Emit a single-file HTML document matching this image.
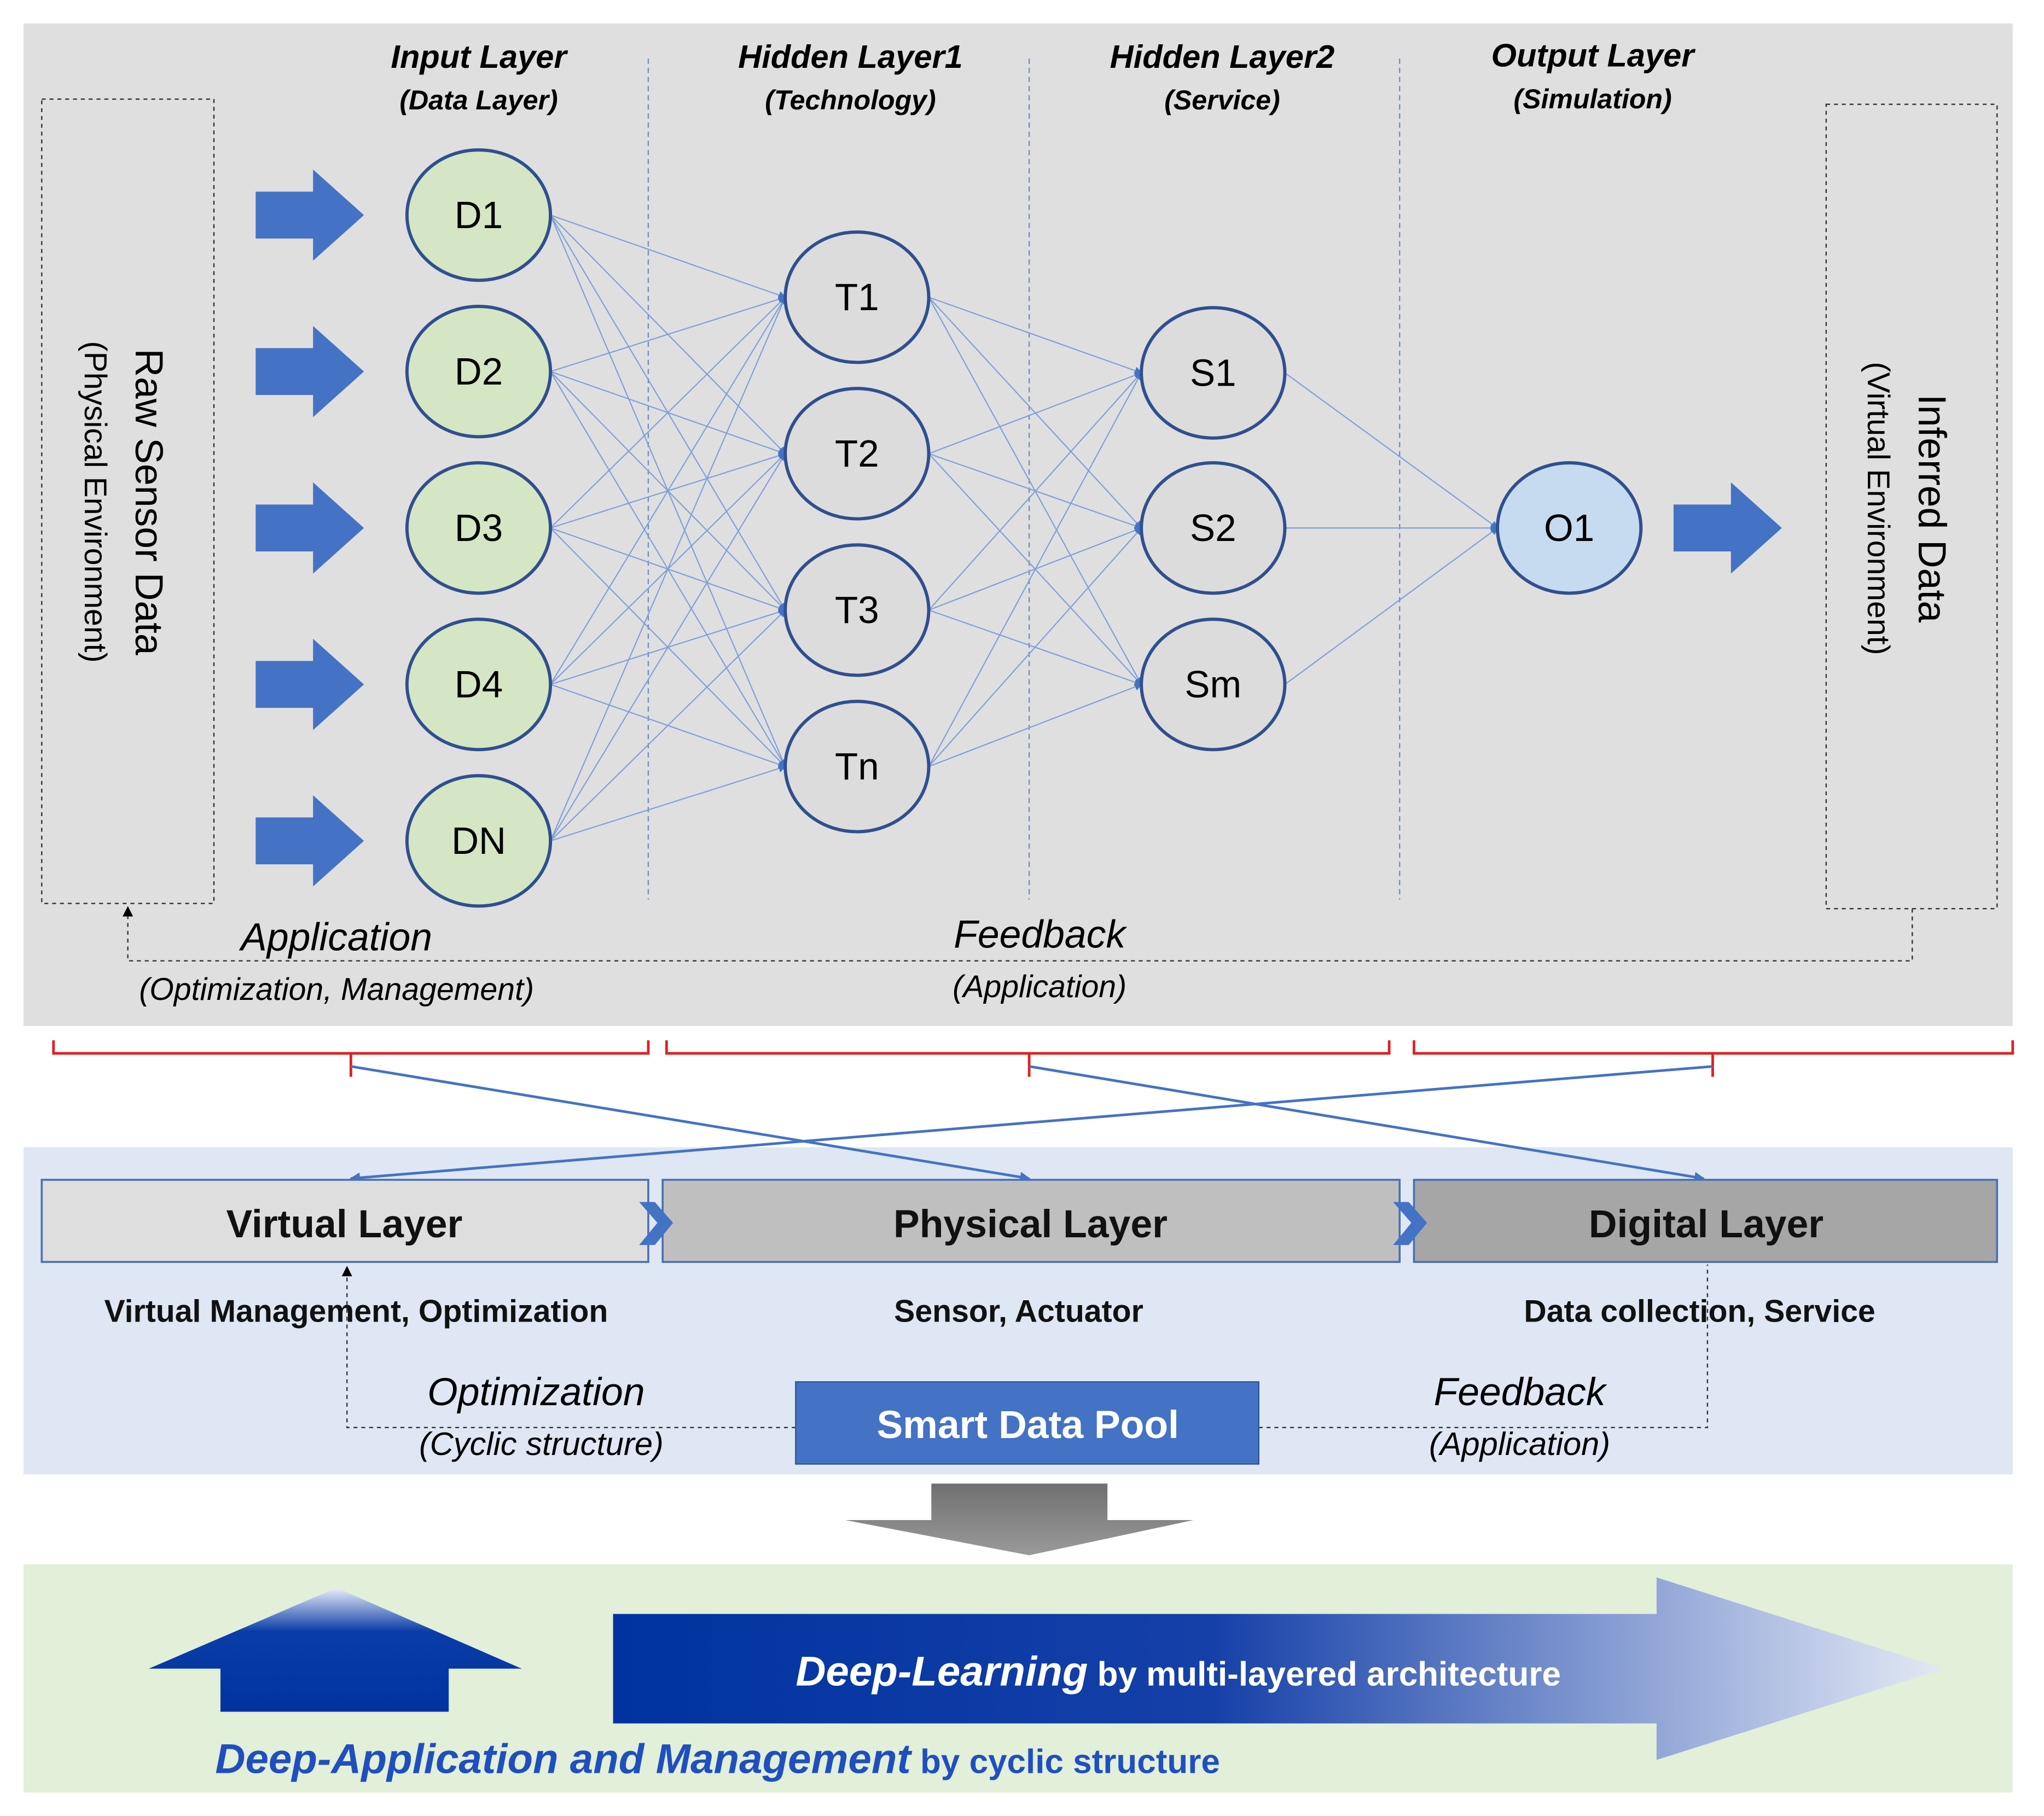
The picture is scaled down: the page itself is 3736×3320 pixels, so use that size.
<!DOCTYPE html>
<html><head><meta charset="utf-8"><style>
html,body{margin:0;padding:0;background:#fff;}
svg{display:block;width:3736px;height:3320px;}
text{font-family:"Liberation Sans",sans-serif;}
</style></head><body>
<svg viewBox="0 0 1567 1393" preserveAspectRatio="none" xmlns="http://www.w3.org/2000/svg">
<defs>
<marker id="ab" markerWidth="8" markerHeight="8" refX="7" refY="4" orient="auto" markerUnits="userSpaceOnUse"><path d="M0,0 L8,4 L0,8 z" fill="#4472c4"/></marker>
<marker id="ak" markerWidth="8" markerHeight="8" refX="7" refY="4" orient="auto" markerUnits="userSpaceOnUse"><path d="M0,0 L8,4 L0,8 z" fill="#000"/></marker>
<marker id="as" markerWidth="6" markerHeight="6" refX="5" refY="3" orient="auto" markerUnits="userSpaceOnUse"><path d="M0,0 L6,3 L0,6 z" fill="#4472c4"/></marker>
<linearGradient id="gg" x1="0" y1="0" x2="0" y2="1"><stop offset="0" stop-color="#707070"/><stop offset="1" stop-color="#9a9a9a"/></linearGradient>
<linearGradient id="gu" x1="0" y1="0" x2="0" y2="1"><stop offset="0" stop-color="#e8eef8"/><stop offset="0.35" stop-color="#0b3da8"/><stop offset="1" stop-color="#0033a0"/></linearGradient>
<linearGradient id="gr" x1="470" y1="0" x2="1490" y2="0" gradientUnits="userSpaceOnUse"><stop offset="0" stop-color="#0033a0"/><stop offset="0.45" stop-color="#1540a8"/><stop offset="1" stop-color="#e3e9f5"/></linearGradient>
</defs>

<rect x="18" y="18" width="1525" height="769" fill="#dfdfdf"/>
<rect x="32" y="76" width="132" height="617" fill="none" stroke="#333" stroke-width="1" stroke-dasharray="3,3"/>
<rect x="1400" y="80" width="131" height="617" fill="none" stroke="#333" stroke-width="1" stroke-dasharray="3,3"/>
<text transform="translate(104,385) rotate(90)" text-anchor="middle" font-size="30">Raw Sensor Data</text>
<text transform="translate(65,385) rotate(90)" text-anchor="middle" font-size="24">(Physical Environment)</text>
<text transform="translate(1471,390) rotate(90)" text-anchor="middle" font-size="30">Inferred Data</text>
<text transform="translate(1432,390) rotate(90)" text-anchor="middle" font-size="24">(Virtual Environment)</text>

<g font-weight="bold" font-style="italic" text-anchor="middle">
<text x="367" y="52" font-size="25">Input Layer</text><text x="367" y="84" font-size="21">(Data Layer)</text>
<text x="652" y="52" font-size="25">Hidden Layer1</text><text x="652" y="84" font-size="21">(Technology)</text>
<text x="937" y="52" font-size="25">Hidden Layer2</text><text x="937" y="84" font-size="21">(Service)</text>
<text x="1221" y="51" font-size="25">Output Layer</text><text x="1221" y="83" font-size="21">(Simulation)</text>
</g>
<g stroke="#6f8fc8" stroke-width="1" stroke-dasharray="4,3">
<line x1="497" y1="45" x2="497" y2="690"/><line x1="789" y1="45" x2="789" y2="690"/><line x1="1073" y1="45" x2="1073" y2="690"/>
</g>

<g fill="#4472c4">
<path d="M196,147 h44 v-17 l39,35 l-39,35 v-17 h-44z"/>
<path d="M196,267 h44 v-17 l39,35 l-39,35 v-17 h-44z"/>
<path d="M196,387 h44 v-17 l39,35 l-39,35 v-17 h-44z"/>
<path d="M196,507 h44 v-17 l39,35 l-39,35 v-17 h-44z"/>
<path d="M196,627 h44 v-17 l39,35 l-39,35 v-17 h-44z"/>
<path d="M1283,387 h44 v-17 l39,35 l-39,35 v-17 h-44z"/>
</g>

<g stroke="#7f9fd8" stroke-width="0.9" marker-end="url(#as)">
<line x1="422" y1="165" x2="602" y2="228"/><line x1="422" y1="165" x2="602" y2="348"/><line x1="422" y1="165" x2="602" y2="468"/><line x1="422" y1="165" x2="602" y2="588"/>
<line x1="422" y1="285" x2="602" y2="228"/><line x1="422" y1="285" x2="602" y2="348"/><line x1="422" y1="285" x2="602" y2="468"/><line x1="422" y1="285" x2="602" y2="588"/>
<line x1="422" y1="405" x2="602" y2="228"/><line x1="422" y1="405" x2="602" y2="348"/><line x1="422" y1="405" x2="602" y2="468"/><line x1="422" y1="405" x2="602" y2="588"/>
<line x1="422" y1="525" x2="602" y2="228"/><line x1="422" y1="525" x2="602" y2="348"/><line x1="422" y1="525" x2="602" y2="468"/><line x1="422" y1="525" x2="602" y2="588"/>
<line x1="422" y1="645" x2="602" y2="228"/><line x1="422" y1="645" x2="602" y2="348"/><line x1="422" y1="645" x2="602" y2="468"/><line x1="422" y1="645" x2="602" y2="588"/>
<line x1="712" y1="228" x2="875" y2="286"/><line x1="712" y1="228" x2="875" y2="405"/><line x1="712" y1="228" x2="875" y2="525"/>
<line x1="712" y1="348" x2="875" y2="286"/><line x1="712" y1="348" x2="875" y2="405"/><line x1="712" y1="348" x2="875" y2="525"/>
<line x1="712" y1="468" x2="875" y2="286"/><line x1="712" y1="468" x2="875" y2="405"/><line x1="712" y1="468" x2="875" y2="525"/>
<line x1="712" y1="588" x2="875" y2="286"/><line x1="712" y1="588" x2="875" y2="405"/><line x1="712" y1="588" x2="875" y2="525"/>
<line x1="985" y1="286" x2="1148" y2="405"/><line x1="985" y1="405" x2="1148" y2="405"/><line x1="985" y1="525" x2="1148" y2="405"/>
</g>

<g stroke="#2f4f8f" stroke-width="2.5" fill="#d4e6c3">
<ellipse cx="367" cy="165" rx="55" ry="50"/><ellipse cx="367" cy="285" rx="55" ry="50"/><ellipse cx="367" cy="405" rx="55" ry="50"/><ellipse cx="367" cy="525" rx="55" ry="50"/><ellipse cx="367" cy="645" rx="55" ry="50"/>
</g>
<g stroke="#2f4f8f" stroke-width="2.5" fill="#dcdcdc">
<ellipse cx="657" cy="228" rx="55" ry="50"/><ellipse cx="657" cy="348" rx="55" ry="50"/><ellipse cx="657" cy="468" rx="55" ry="50"/><ellipse cx="657" cy="588" rx="55" ry="50"/>
<ellipse cx="930" cy="286" rx="55" ry="50"/><ellipse cx="930" cy="405" rx="55" ry="50"/><ellipse cx="930" cy="525" rx="55" ry="50"/>
</g>
<ellipse cx="1203" cy="405" rx="55" ry="50" stroke="#2f4f8f" stroke-width="2.5" fill="#c6dbef"/>
<g font-size="29" text-anchor="middle">
<text x="367" y="175">D1</text><text x="367" y="295">D2</text><text x="367" y="415">D3</text><text x="367" y="535">D4</text><text x="367" y="655">DN</text>
<text x="657" y="238">T1</text><text x="657" y="358">T2</text><text x="657" y="478">T3</text><text x="657" y="598">Tn</text>
<text x="930" y="296">S1</text><text x="930" y="415">S2</text><text x="930" y="535">Sm</text>
<text x="1203" y="415">O1</text>
</g>

<path d="M1466,697 V737 H98 V696" fill="none" stroke="#333" stroke-width="1" stroke-dasharray="3,3" marker-end="url(#ak)"/>
<g font-style="italic" text-anchor="middle">
<text x="258" y="729" font-size="30">Application</text>
<text x="258" y="767" font-size="24">(Optimization, Management)</text>
<text x="797" y="727" font-size="30">Feedback</text>
<text x="797" y="765" font-size="24">(Application)</text>
</g>

<g stroke="#e02020" stroke-width="2" fill="none">
<path d="M41,798 V808 H497 V798 M269,808 V826"/>
<path d="M511,798 V808 H1065 V798 M789,808 V826"/>
<path d="M1084,798 V808 H1543 V798 M1313,808 V826"/>
</g>

<rect x="18" y="880" width="1525" height="251" fill="#dee7f3"/>
<g stroke="#4472c4" stroke-width="2" marker-end="url(#ab)">
<line x1="269" y1="818" x2="789" y2="904"/>
<line x1="789" y1="818" x2="1306" y2="904"/>
<line x1="1313" y1="818" x2="269" y2="904"/>
</g>
<rect x="32" y="905" width="465" height="63" fill="#dedede" stroke="#4a6fb5" stroke-width="1.5"/>
<rect x="508" y="905" width="565" height="63" fill="#bfbfbf" stroke="#4a6fb5" stroke-width="1.5"/>
<rect x="1084" y="905" width="447" height="63" fill="#a6a6a6" stroke="#4a6fb5" stroke-width="1.5"/>
<path d="M490,922 h12 l14,16 l-14,17 h-12 l14,-17z" fill="#4472c4"/>
<path d="M1068,922 h12 l14,16 l-14,17 h-12 l14,-17z" fill="#4472c4"/>
<g font-weight="bold" text-anchor="middle" fill="#111">
<text x="264" y="949" font-size="30">Virtual Layer</text>
<text x="790" y="949" font-size="30">Physical Layer</text>
<text x="1308" y="949" font-size="30">Digital Layer</text>
<text x="273" y="1014" font-size="24">Virtual Management, Optimization</text>
<text x="781" y="1014" font-size="24">Sensor, Actuator</text>
<text x="1303" y="1014" font-size="24">Data collection, Service</text>
</g>
<path d="M610,1095 H266 V972" fill="none" stroke="#333" stroke-width="1" stroke-dasharray="3,3" marker-end="url(#ak)"/>
<path d="M965,1095 H1309 V970" fill="none" stroke="#333" stroke-width="1" stroke-dasharray="3,3"/>
<rect x="610" y="1060" width="355" height="63" fill="#4472c4" stroke="#2f5597" stroke-width="1"/>
<text x="788" y="1103" font-size="30" font-weight="bold" fill="#fff" text-anchor="middle">Smart Data Pool</text>
<g font-style="italic" text-anchor="middle">
<text x="411" y="1078" font-size="30">Optimization</text>
<text x="415" y="1116" font-size="25">(Cyclic structure)</text>
<text x="1165" y="1078" font-size="30">Feedback</text>
<text x="1165" y="1116" font-size="25">(Application)</text>
</g>

<path d="M714,1138 H849 V1166 H915 L789,1193 L648,1166 H714z" fill="url(#gg)"/>

<rect x="18" y="1200" width="1525" height="175" fill="#e2efd9"/>
<path d="M114,1280 L258,1218 L400,1280 H344 V1313 H169 V1280z" fill="url(#gu)"/>
<path d="M470,1238 H1270 V1210 L1490,1280 L1270,1350 V1322 H470z" fill="url(#gr)"/>
<text x="610" y="1293" fill="#fff" font-weight="bold"><tspan font-size="32" font-style="italic">Deep-Learning</tspan><tspan font-size="26"> by multi-layered architecture</tspan></text>
<text x="165" y="1360" fill="#1f4fbf" font-weight="bold"><tspan font-size="32" font-style="italic">Deep-Application and Management</tspan><tspan font-size="26"> by cyclic structure</tspan></text>
</svg>
</body></html>
